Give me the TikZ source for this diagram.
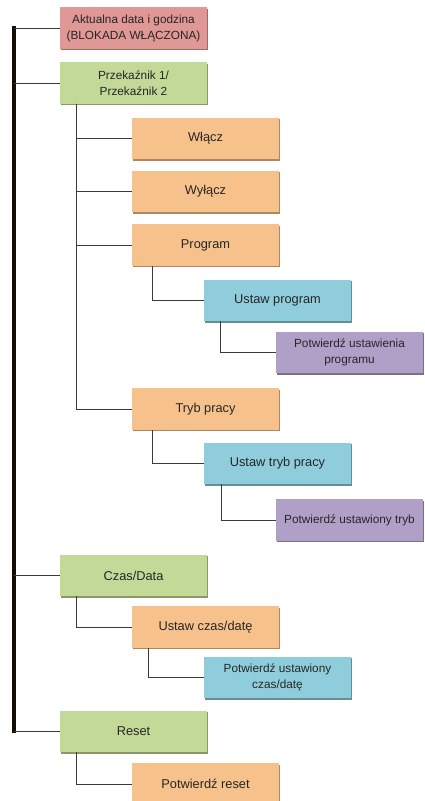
\documentclass[tikz,border=0pt]{standalone}
\usepackage{fontspec}
\setmainfont{Liberation Sans}
\usetikzlibrary{positioning,shadows}

\definecolor{boxred}{RGB}{224,152,150}
\definecolor{boxgreen}{RGB}{195,217,152}
\definecolor{boxorange}{RGB}{246,193,138}
\definecolor{boxblue}{RGB}{143,205,220}
\definecolor{boxpurple}{RGB}{176,160,199}
\definecolor{linegray}{RGB}{60,58,58}

\tikzset{
  box/.style={minimum width=147pt,minimum height=41.5pt,inner sep=1pt,align=center,text=black!85},
  bigtext/.style={font=\fontsize{12.8}{16}\selectfont},
  smalltext/.style={font=\fontsize{11.8}{16}\selectfont},
  redbox/.style={box,fill=boxred,drop shadow={fill=boxred!70!black,opacity=1,shadow xshift=0.8pt,shadow yshift=-1.5pt}},
  greenbox/.style={box,fill=boxgreen,drop shadow={fill=boxgreen!70!black,opacity=1,shadow xshift=0.8pt,shadow yshift=-1.5pt}},
  orangebox/.style={box,fill=boxorange,drop shadow={fill=boxorange!70!black,opacity=1,shadow xshift=0.8pt,shadow yshift=-1.5pt}},
  bluebox/.style={box,fill=boxblue,drop shadow={fill=boxblue!70!black,opacity=1,shadow xshift=0.8pt,shadow yshift=-1.5pt}},
  purplebox/.style={box,fill=boxpurple,drop shadow={fill=boxpurple!70!black,opacity=1,shadow xshift=0.8pt,shadow yshift=-1.5pt}},
  trunk/.style={line width=3.6pt,draw=black!90!brown},
  branch/.style={line width=1pt,draw=linegray}
}

\begin{document}
\begin{tikzpicture}[x=1pt,y=1pt,node distance=54pt,on grid]
  \useasboundingbox (0,0) rectangle (425,-801);

  \node[redbox,smalltext]     (akt)   at (133.5,-28)                  {Aktualna data i godzina\\(BLOKADA WŁĄCZONA)};
  \node[greenbox,smalltext]   (prz)   [below=55pt of akt]             {Przekaźnik 1/\\Przekaźnik 2};
  \node[orangebox,bigtext]    (wl)    [below right=55.5pt and 72pt of prz]  {Włącz};
  \node[orangebox,bigtext]    (wyl)   [below=53pt of wl]              {Wyłącz};
  \node[orangebox,bigtext]    (prog)  [below=53.5pt of wyl]           {Program};
  \node[bluebox,bigtext]      (ustp)  [below right=55.5pt and 72pt of prog] {Ustaw program};
  \node[purplebox,smalltext]  (potp)  [below right=52pt and 72pt of ustp]   {Potwierdź ustawienia\\programu};
  \node[orangebox,bigtext]    (tryb)  [below=164pt of prog]           {Tryb pracy};
  \node[bluebox,bigtext]      (ustt)  [below right=54.5pt and 72pt of tryb] {Ustaw tryb pracy};
  \node[purplebox,smalltext]  (pott)  [below right=56.5pt and 72pt of ustt] {Potwierdź ustawiony tryb};
  \node[greenbox,bigtext]     (czas)  [below=492.5pt of prz]          {Czas/Data};
  \node[orangebox,bigtext]    (ustc)  [below right=51.5pt and 72pt of czas] {Ustaw czas/datę};
  \node[bluebox,smalltext]    (potc)  [below right=50.5pt and 72pt of ustc] {Potwierdź ustawiony\\czas/datę};
  \node[greenbox,bigtext]     (reset) [below=156pt of czas]           {Reset};
  \node[orangebox,bigtext]    (potr)  [below right=52.5pt and 72pt of reset] {Potwierdź reset};

  % main bar
  \coordinate (bar) at (14,0);
  \draw[trunk] ([yshift=1.8pt]bar |- akt.west) -- ([yshift=-1.8pt]bar |- reset.west);
  \foreach \n in {akt,prz,czas,reset}
    \draw[branch] (bar |- \n.west) -- (\n.west);

  % sub menus
  \foreach \n in {wl,wyl,prog,tryb}
    \draw[branch] ([xshift=17pt]prz.south west) |- (\n.west);
  \draw[branch] ([xshift=21pt]prog.south west) |- (ustp.west);
  \draw[branch] ([xshift=17pt]ustp.south west) |- (potp.west);
  \draw[branch] ([xshift=21pt]tryb.south west) |- (ustt.west);
  \draw[branch] ([xshift=18pt]ustt.south west) |- (pott.west);
  \draw[branch] ([xshift=17pt]czas.south west) |- (ustc.west);
  \draw[branch] ([xshift=17pt]ustc.south west) |- (potc.west);
  \draw[branch] ([xshift=17pt]reset.south west) |- (potr.west);
\end{tikzpicture}
\end{document}
